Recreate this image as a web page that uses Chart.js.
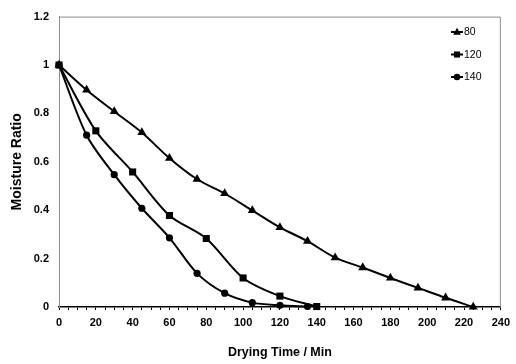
<!DOCTYPE html>
<html>
<head>
<meta charset="utf-8">
<script src="https://cdn.jsdelivr.net/npm/chart.js@4.4.1/dist/chart.umd.min.js"></script>
<style>
  html, body { margin: 0; padding: 0; background: #fff; }
  #wrap { width: 516px; height: 364px; }
</style>
</head>
<body>
<div id="wrap"><canvas id="c" width="516" height="364"></canvas></div>
<script>
// drying curves, moisture ratio vs time
const time80 = [0, 15, 30, 45, 60, 75, 90, 105, 120, 135, 150, 165, 180, 195, 210, 225];
const mr80 = [1, 0.897, 0.808, 0.721, 0.615, 0.528, 0.469, 0.399, 0.329, 0.272, 0.204, 0.163, 0.12, 0.079, 0.038, 0];
const time120 = [0, 20, 40, 60, 80, 100, 120, 140];
const mr120 = [1, 0.728, 0.558, 0.378, 0.283, 0.12, 0.045, 0.002];
const time140 = [0, 15, 30, 45, 60, 75, 90, 105, 120, 135];
const mr140 = [1, 0.71, 0.547, 0.408, 0.286, 0.139, 0.057, 0.018, 0.007, 0.002];
const seriesNames = ['80', '120', '140'];
const seriesShapes = ['triangle', 'rect', 'circle'];
const xTicks = [0, 20, 40, 60, 80, 100, 120, 140, 160, 180, 200, 220, 240];
const yTicks = [0, 0.2, 0.4, 0.6, 0.8, 1, 1.2];

const FONT = "'Liberation Sans', Arial, sans-serif";

function pts(xs, ys) {
    return xs.map((x, i) => ({ x: x, y: ys[i] }));
}

function markerPath(ctx, shape, x, y, r) {
    ctx.beginPath();
    if (shape === 'triangle') {
        ctx.moveTo(x, y - r * 1.1);
        ctx.lineTo(x + r, y + r * 0.75);
        ctx.lineTo(x - r, y + r * 0.75);
        ctx.closePath();
    } else if (shape === 'rect') {
        ctx.rect(x - r * 0.8, y - r * 0.8, r * 1.6, r * 1.6);
    } else {
        ctx.arc(x, y, r * 0.85, 0, Math.PI * 2);
    }
    ctx.fill();
}

// grey frame round the plot area
const framePlugin = {
    id: 'frame',
    beforeDatasetsDraw(chart) {
        const { ctx, chartArea: a } = chart;
        ctx.save();
        ctx.strokeStyle = '#8c8c8c';
        ctx.lineWidth = 1;
        ctx.beginPath();
        ctx.moveTo(a.left + 0.5, a.bottom);
        ctx.lineTo(a.left + 0.5, a.top + 0.5);
        ctx.lineTo(a.right - 0.5, a.top + 0.5);
        ctx.lineTo(a.right - 0.5, a.bottom);
        ctx.stroke();
        ctx.restore();
    }
};

// legend inside the plot, top right: line + marker + label
const legendPlugin = {
    id: 'inLegend',
    afterDraw(chart) {
        const { ctx } = chart;
        ctx.save();
        ctx.font = '10.5px ' + FONT;
        ctx.textBaseline = 'middle';
        chart.data.datasets.forEach((ds, i) => {
            const y = 32 + i * 22.5;
            const x0 = 451, x1 = 463;
            ctx.strokeStyle = '#000';
            ctx.lineWidth = 2;
            ctx.beginPath();
            ctx.moveTo(x0, y);
            ctx.lineTo(x1, y);
            ctx.stroke();
            ctx.fillStyle = '#000';
            markerPath(ctx, seriesShapes[i], (x0 + x1) / 2, y, 3.8);
            ctx.fillText(ds.label, x1 + 1, y + 0.5);
        });
        ctx.restore();
    }
};

const makeSet = (label, data, shape, r) => ({
    label: label,
    data: data,
    borderColor: '#000',
    backgroundColor: '#000',
    borderWidth: 2,
    pointStyle: shape,
    pointRadius: r,
    pointBorderWidth: 0,
    pointBackgroundColor: '#000',
    tension: 0.3,
    fill: false,
    clip: false
});

new Chart(document.getElementById('c'), {
    type: 'line',
    data: {
        datasets: [
            makeSet(seriesNames[0], pts(time80, mr80), seriesShapes[0], 5.2),
            makeSet(seriesNames[1], pts(time120, mr120), seriesShapes[1], 5),
            makeSet(seriesNames[2], pts(time140, mr140), seriesShapes[2], 3.6)
        ]
    },
    options: {
        responsive: false,
        animation: false,
        layout: { padding: { top: 13, right: 7, left: 5, bottom: 0 } },
        plugins: {
            legend: { display: false },
            tooltip: { enabled: false }
        },
        scales: {
            x: {
                type: 'linear',
                min: 0,
                max: 240,
                afterBuildTicks: scale => {
                    const t = [];
                    for (let v = 0; v <= 240; v += 5) t.push({ value: v });
                    scale.ticks = t;
                },
                afterFit: scale => { scale.height = 57; },
                ticks: {
                    autoSkip: false,
                    maxRotation: 0,
                    padding: 6,
                    color: '#000',
                    font: { family: FONT, size: 11, weight: 'bold' },
                    callback: v => xTicks.includes(v) ? String(v) : ''
                },
                grid: {
                    drawOnChartArea: false,
                    color: '#000',
                    tickLength: 3,
                    tickWidth: 1
                },
                border: { color: '#000', width: 1.5 },
                title: {
                    display: true,
                    text: 'Drying Time / Min',
                    color: '#000',
                    font: { family: FONT, size: 12.5, weight: 'bold' },
                    padding: { top: 10 }
                }
            },
            y: {
                type: 'linear',
                min: 0,
                max: 1.2,
                afterBuildTicks: scale => {
                    scale.ticks = yTicks.map(v => ({ value: v }));
                },
                afterFit: scale => { scale.width = 54; },
                ticks: {
                    padding: 10,
                    color: '#000',
                    font: { family: FONT, size: 11, weight: 'bold' },
                    callback: v => String(Math.round(v * 10) / 10)
                },
                grid: { display: false, drawTicks: false },
                border: { color: '#8c8c8c', width: 1 },
                title: {
                    display: true,
                    text: 'Moisture Ratio',
                    color: '#000',
                    font: { family: FONT, size: 14, weight: 'bold' },
                    padding: { bottom: 6 }
                }
            }
        }
    },
    plugins: [framePlugin, legendPlugin]
});
</script>
</body>
</html>
